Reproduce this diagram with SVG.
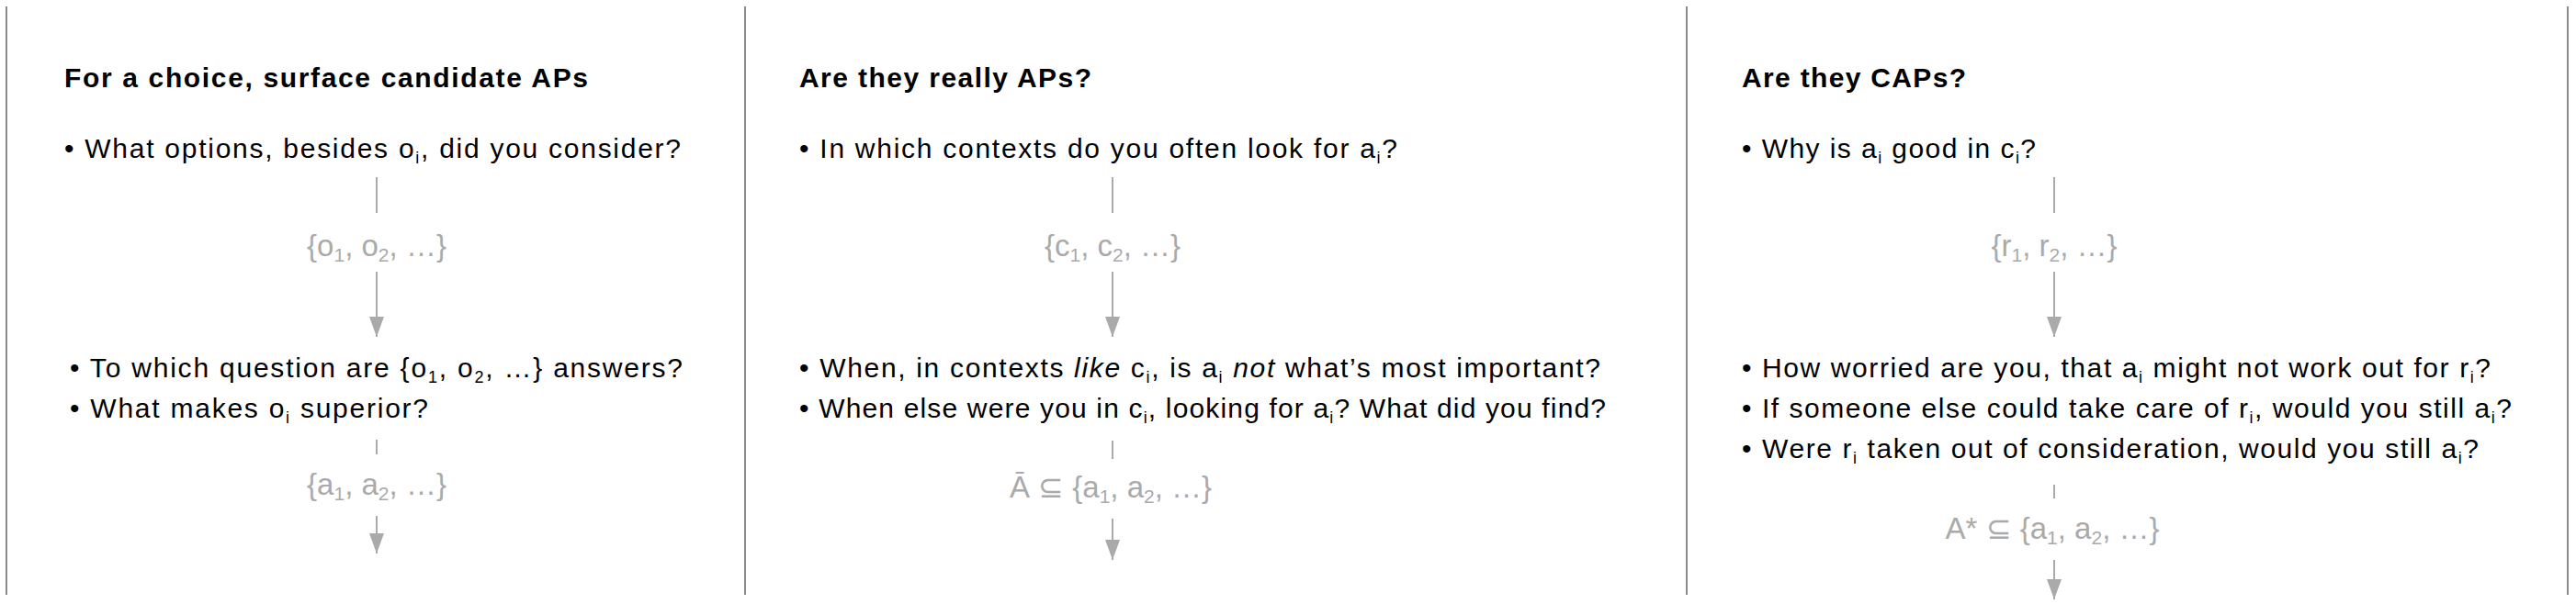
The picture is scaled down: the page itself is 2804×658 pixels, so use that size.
<svg xmlns="http://www.w3.org/2000/svg" width="2804" height="658" viewBox="0 0 2804 658">
<style>
.t{font-family:"Liberation Sans",Arial,sans-serif;font-size:30px;font-weight:bold;fill:#000}
.b{font-family:"Liberation Sans",Arial,sans-serif;font-size:30px;fill:#000}
.s{font-size:18px}
.l{font-family:"Liberation Sans",Arial,sans-serif;font-size:33px;fill:#aaaaaa;text-anchor:middle}
.ls{font-size:21px}
.div{stroke:#8a8a8a;stroke-width:2;fill:none}
.c{stroke:#aaaaaa;stroke-width:2;fill:none}
.ca{stroke:#aaaaaa;stroke-width:2;fill:none;marker-end:url(#ah)}
</style>
<defs>
<marker id="ah" markerUnits="userSpaceOnUse" markerWidth="22" markerHeight="16" refX="22" refY="8" orient="auto" viewBox="0 0 22 16">
<path d="M0,0 L22,8 L0,16 Z" fill="#aaaaaa"/>
</marker>
</defs>
<g id="dividers">
<line class="div" x1="7" y1="7" x2="7" y2="648"/>
<line class="div" x1="811" y1="7" x2="811" y2="648"/>
<line class="div" x1="1836" y1="7" x2="1836" y2="648"/>
<line class="div" x1="2795" y1="7" x2="2795" y2="648"/>
</g>
<g id="connectors">
<line class="c" x1="410" y1="193" x2="410" y2="232"/>
<line class="ca" x1="410" y1="296" x2="410" y2="367"/>
<line class="c" x1="410" y1="479" x2="410" y2="495"/>
<line class="ca" x1="410" y1="562" x2="410" y2="603"/>
<line class="c" x1="1211" y1="193" x2="1211" y2="232"/>
<line class="ca" x1="1211" y1="296" x2="1211" y2="367"/>
<line class="c" x1="1211" y1="480" x2="1211" y2="500"/>
<line class="ca" x1="1211" y1="565" x2="1211" y2="610"/>
<line class="c" x1="2236" y1="193" x2="2236" y2="232"/>
<line class="ca" x1="2236" y1="296" x2="2236" y2="367"/>
<line class="c" x1="2236" y1="528" x2="2236" y2="543"/>
<line class="ca" x1="2236" y1="610" x2="2236" y2="653"/>
</g>
<g id="panel1-title"><text class="t" x="70" y="95" textLength="570">For a choice, surface candidate APs</text></g>
<g id="panel1-q1"><text class="b" x="70" y="172" textLength="671">• What options, besides o<tspan class="s" dy="6">i</tspan><tspan dy="-6">, did you consider?</tspan></text></g>
<g id="panel1-set-o"><text class="l" x="410" y="279">{o<tspan class="ls" dy="6">1</tspan><tspan dy="-6">, o</tspan><tspan class="ls" dy="6">2</tspan><tspan dy="-6">, …}</tspan></text></g>
<g id="panel1-q2">
<text class="b" x="76" y="411" textLength="667">• To which question are {o<tspan class="s" dy="6">1</tspan><tspan dy="-6">, o</tspan><tspan class="s" dy="6">2</tspan><tspan dy="-6">, …} answers?</tspan></text>
<text class="b" x="76" y="455" textLength="390">• What makes o<tspan class="s" dy="6">i</tspan><tspan dy="-6"> superior?</tspan></text>
</g>
<g id="panel1-set-a"><text class="l" x="410" y="539">{a<tspan class="ls" dy="6">1</tspan><tspan dy="-6">, a</tspan><tspan class="ls" dy="6">2</tspan><tspan dy="-6">, …}</tspan></text></g>

<g id="panel2-title"><text class="t" x="870" y="95" textLength="318">Are they really APs?</text></g>
<g id="panel2-q1"><text class="b" x="870" y="172" textLength="651">• In which contexts do you often look for a<tspan class="s" dy="6">i</tspan><tspan dy="-6">?</tspan></text></g>
<g id="panel2-set-c"><text class="l" x="1211" y="279">{c<tspan class="ls" dy="6">1</tspan><tspan dy="-6">, c</tspan><tspan class="ls" dy="6">2</tspan><tspan dy="-6">, …}</tspan></text></g>
<g id="panel2-q2">
<text class="b" x="870" y="411" textLength="872">• When, in contexts <tspan font-style="italic">like</tspan> c<tspan class="s" dy="6">i</tspan><tspan dy="-6">, is a</tspan><tspan class="s" dy="6">i</tspan><tspan dy="-6" font-style="italic"> not</tspan> what’s most important?</text>
<text class="b" x="870" y="455" textLength="878">• When else were you in c<tspan class="s" dy="6">i</tspan><tspan dy="-6">, looking for a</tspan><tspan class="s" dy="6">i</tspan><tspan dy="-6">? What did you find?</tspan></text>
</g>
<g id="panel2-set-abar"><text class="l" x="1209" y="542">Ā ⊆ {a<tspan class="ls" dy="6">1</tspan><tspan dy="-6">, a</tspan><tspan class="ls" dy="6">2</tspan><tspan dy="-6">, …}</tspan></text></g>

<g id="panel3-title"><text class="t" x="1896" y="95" textLength="244">Are they CAPs?</text></g>
<g id="panel3-q1"><text class="b" x="1896" y="172" textLength="320">• Why is a<tspan class="s" dy="6">i</tspan><tspan dy="-6"> good in c</tspan><tspan class="s" dy="6">i</tspan><tspan dy="-6">?</tspan></text></g>
<g id="panel3-set-r"><text class="l" x="2236" y="279">{r<tspan class="ls" dy="6">1</tspan><tspan dy="-6">, r</tspan><tspan class="ls" dy="6">2</tspan><tspan dy="-6">, …}</tspan></text></g>
<g id="panel3-q2">
<text class="b" x="1896" y="411" textLength="815">• How worried are you, that a<tspan class="s" dy="6">i</tspan><tspan dy="-6"> might not work out for r</tspan><tspan class="s" dy="6">i</tspan><tspan dy="-6">?</tspan></text>
<text class="b" x="1896" y="455" textLength="838">• If someone else could take care of r<tspan class="s" dy="6">i</tspan><tspan dy="-6">, would you still a</tspan><tspan class="s" dy="6">i</tspan><tspan dy="-6">?</tspan></text>
<text class="b" x="1896" y="499" textLength="802">• Were r<tspan class="s" dy="6">i</tspan><tspan dy="-6"> taken out of consideration, would you still a</tspan><tspan class="s" dy="6">i</tspan><tspan dy="-6">?</tspan></text>
</g>
<g id="panel3-set-astar"><text class="l" x="2234" y="587">A* ⊆ {a<tspan class="ls" dy="6">1</tspan><tspan dy="-6">, a</tspan><tspan class="ls" dy="6">2</tspan><tspan dy="-6">, …}</tspan></text></g>
</svg>
